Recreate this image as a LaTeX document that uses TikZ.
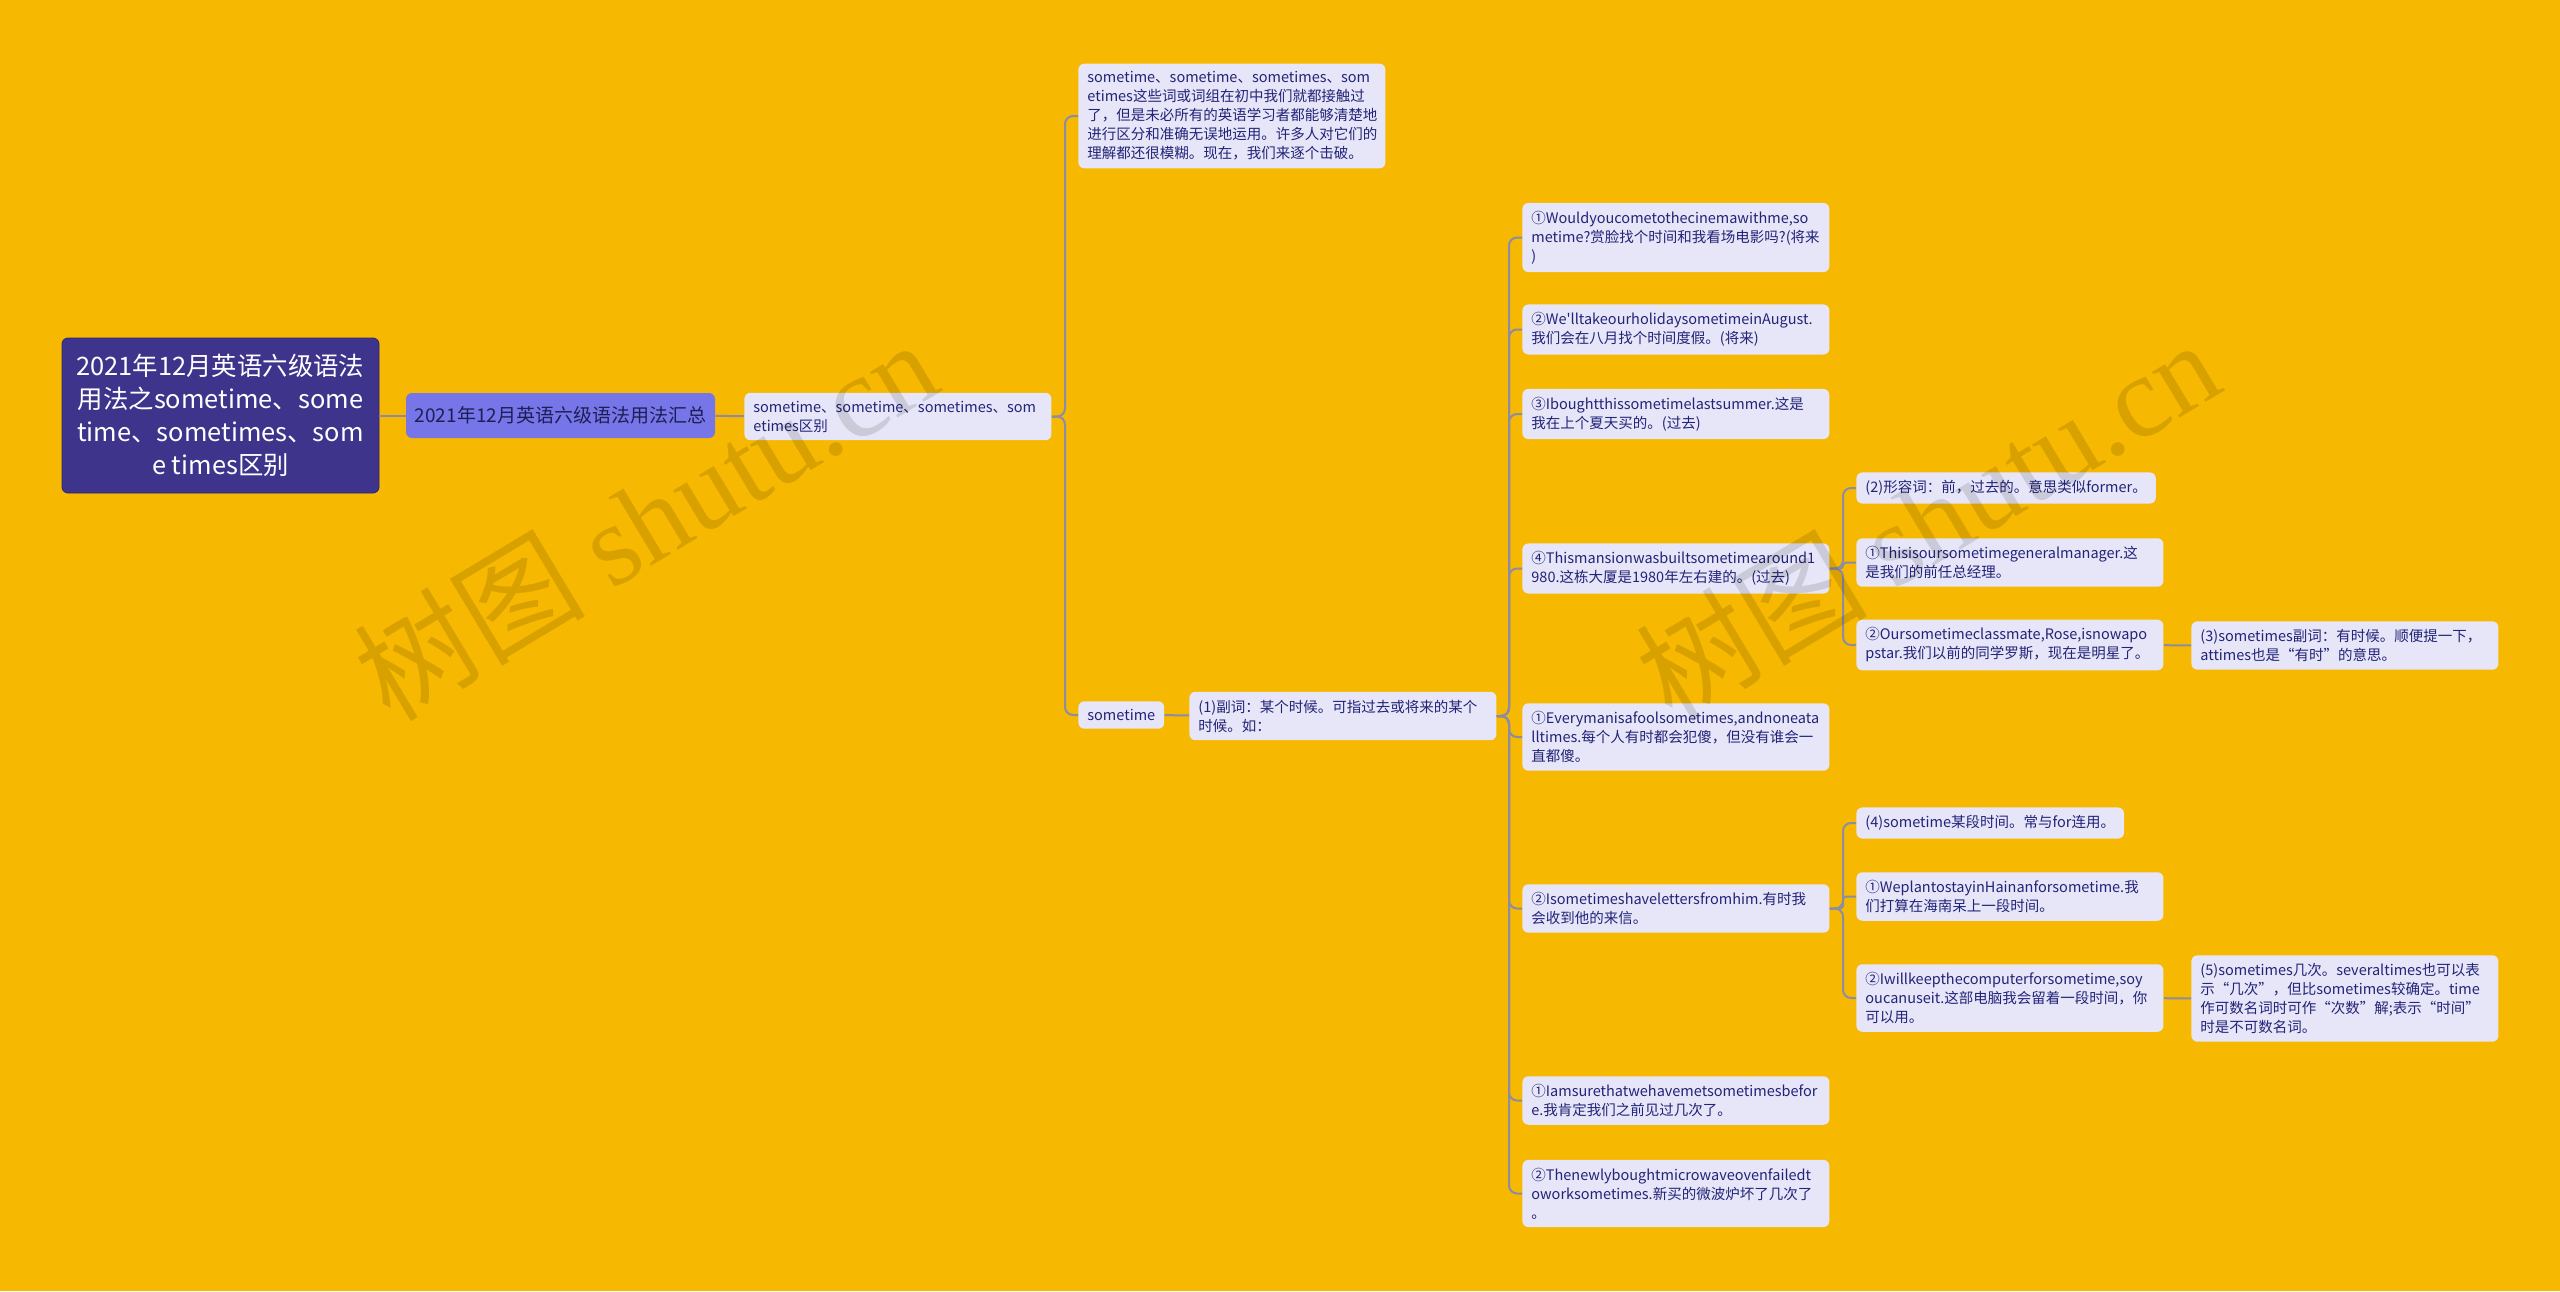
\documentclass[tikz,border=0pt]{standalone}
\usepackage{fontspec}
\setmainfont{Noto Sans CJK SC}[Ligatures=TeXOff]
\newfontfamily\wmlatin{Liberation Serif}
\definecolor{pagebg}{RGB}{246,184,0}
\definecolor{rootbg}{RGB}{62,52,140}
\definecolor{rootbd}{RGB}{44,38,110}
\definecolor{sumbg}{RGB}{118,118,232}
\definecolor{sumink}{RGB}{30,30,85}
\definecolor{leafbg}{RGB}{230,230,248}
\definecolor{leafink}{RGB}{35,35,120}
\definecolor{linkc}{RGB}{140,140,165}

\begin{document}
\begin{tikzpicture}[x=0.5pt, y=-0.5pt,
  rootbox/.style = {fill=rootbg, draw=rootbd, text=white, rounded corners=3pt, align=center, minimum width=158.5pt, minimum height=77.5pt, font=\fontsize{12.7pt}{16.5pt}\selectfont},
  sumbox/.style = {fill=sumbg, text=sumink, rounded corners=3pt, minimum width=154.5pt, minimum height=22.5pt, font=\fontsize{9.5pt}{11pt}\selectfont},
  leaf/.style = {fill=leafbg, text=leafink, rounded corners=3pt, inner xsep=4.5pt, inner ysep=4pt, anchor=west, align=left, font=\fontsize{7.25pt}{9.5pt}\selectfont},
  wide/.style = {leaf, text width=144.5pt},
  link/.style = {draw=linkc, line width=1pt, rounded corners=4pt},
  wmark/.style = {text=black, opacity=0.12, rotate=31, font=\fontsize{58pt}{60pt}\selectfont}]
\path[use as bounding box, fill=pagebg] (0,0) rectangle (2560,1291);

\node[rootbox] (root) at (220.5,415.5) {2021年12月英语六级语法\\用法之sometime、some\\time、sometimes、som\\e times区别};
\node[sumbox] (sum) at (560.5,415.5) {2021年12月英语六级语法用法汇总};
\node[wide] (diff) at (744,416.5) {sometime、sometime、sometimes、som\\etimes区别};
\node[wide] (intro) at (1078,116) {sometime、sometime、sometimes、som\\etimes这些词或词组在初中我们就都接触过\\了，但是未必所有的英语学习者都能够清楚地\\进行区分和准确无误地运用。许多人对它们的\\理解都还很模糊。现在，我们来逐个击破。};
\node[leaf] (st) at (1078,715) {sometime};
\node[wide] (adv) at (1189,716) {(1)副词：某个时候。可指过去或将来的某个\\时候。如：};

\node[wide] (e1) at (1522,237.5) {①Wouldyoucometothecinemawithme,so\\metime?赏脸找个时间和我看场电影吗?(将来\\)};
\node[wide] (e2) at (1522,329.5) {②We'lltakeourholidaysometimeinAugust.\\我们会在八月找个时间度假。(将来)};
\node[wide] (e3) at (1522,414) {③Iboughtthissometimelastsummer.这是\\我在上个夏天买的。(过去)};
\node[wide] (e4) at (1522,568.5) {④Thismansionwasbuiltsometimearound1\\980.这栋大厦是1980年左右建的。(过去)};
\node[wide] (e5) at (1522,737) {①Everymanisafoolsometimes,andnoneata\\lltimes.每个人有时都会犯傻，但没有谁会一\\直都傻。};
\node[wide] (e6) at (1522,908.5) {②Isometimeshavelettersfromhim.有时我\\会收到他的来信。};
\node[wide] (e7) at (1522,1100.5) {①Iamsurethatwehavemetsometimesbefor\\e.我肯定我们之前见过几次了。};
\node[wide] (e8) at (1522,1193.5) {②Thenewlyboughtmicrowaveovenfailedt\\oworksometimes.新买的微波炉坏了几次了\\。};

\node[leaf] (f1) at (1856,488) {(2)形容词：前，过去的。意思类似former。};
\node[wide] (f2) at (1856,562.5) {①Thisisoursometimegeneralmanager.这\\是我们的前任总经理。};
\node[wide] (f3) at (1856,645) {②Oursometimeclassmate,Rose,isnowapo\\pstar.我们以前的同学罗斯，现在是明星了。};
\node[wide] (g1) at (2191,645.5) {(3)sometimes副词：有时候。顺便提一下，\\attimes也是“有时”的意思。};
\node[leaf] (f4) at (1856,823) {(4)sometime某段时间。常与for连用。};
\node[wide] (f5) at (1856,896.5) {①WeplantostayinHainanforsometime.我\\们打算在海南呆上一段时间。};
\node[wide] (f6) at (1856,998) {②Iwillkeepthecomputerforsometime,soy\\oucanuseit.这部电脑我会留着一段时间，你\\可以用。};
\node[wide] (g2) at (2191,998.5) {(5)sometimes几次。severaltimes也可以表\\示“几次”，但比sometimes较确定。time\\作可数名词时可作“次数”解;表示“时间”\\时是不可数名词。};

% buses
\coordinate (b0) at (1065,0);
\coordinate (b1) at (1509,0);
\coordinate (b2) at (1843,0);

\draw[link] (root) -- (sum);
\draw[link] (sum) -- (diff);
\draw[link] (diff.east) -| (b0 |- intro.west) -- (intro.west);
\draw[link] (diff.east) -| (b0 |- st.west) -- (st.west);
\draw[link] (st) -- (adv);
\draw[link] (adv.east) -| (b1 |- e1.west) -- (e1.west);
\draw[link] (adv.east) -| (b1 |- e2.west) -- (e2.west);
\draw[link] (adv.east) -| (b1 |- e3.west) -- (e3.west);
\draw[link] (adv.east) -| (b1 |- e4.west) -- (e4.west);
\draw[link] (adv.east) -| (b1 |- e5.west) -- (e5.west);
\draw[link] (adv.east) -| (b1 |- e6.west) -- (e6.west);
\draw[link] (adv.east) -| (b1 |- e7.west) -- (e7.west);
\draw[link] (adv.east) -| (b1 |- e8.west) -- (e8.west);
\draw[link] (e4.east) -| (b2 |- f1.west) -- (f1.west);
\draw[link, rounded corners=1.5pt] (e4.east) -| (b2 |- f2.west) -- (f2.west);
\draw[link] (e4.east) -| (b2 |- f3.west) -- (f3.west);
\draw[link] (f3) -- (g1);
\draw[link] (e6.east) -| (b2 |- f4.west) -- (f4.west);
\draw[link, rounded corners=1.5pt] (e6.east) -| (b2 |- f5.west) -- (f5.west);
\draw[link] (e6.east) -| (b2 |- f6.west) -- (f6.west);
\draw[link] (f6) -- (g2);

% watermark
\node[wmark] (wm1) at (645,519) {树图 {\wmlatin shutu.cn}};
\node[wmark] (wm2) at (1927,519) {树图 {\wmlatin shutu.cn}};
\end{tikzpicture}
\end{document}
